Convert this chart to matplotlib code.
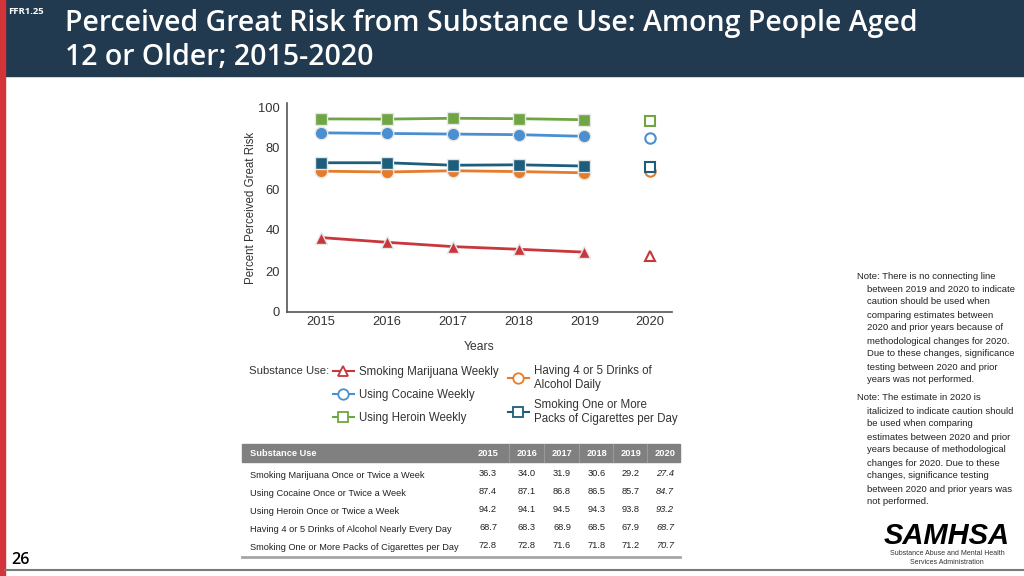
import matplotlib
matplotlib.use("Agg")
import matplotlib.pyplot as plt
from matplotlib.lines import Line2D
from matplotlib.patches import Rectangle

# data
years = [2015, 2016, 2017, 2018, 2019]
year_2020 = 2020
table_years = ["2015", "2016", "2017", "2018", "2019", "2020"]

marijuana = [36.3, 34.0, 31.9, 30.6, 29.2]
cocaine = [87.4, 87.1, 86.8, 86.5, 85.7]
heroin = [94.2, 94.1, 94.5, 94.3, 93.8]
alcohol = [68.7, 68.3, 68.9, 68.5, 67.9]
cigarettes = [72.8, 72.8, 71.6, 71.8, 71.2]
values_2020 = [27.4, 84.7, 93.2, 68.7, 70.7]

legend_labels = ["Smoking Marijuana Weekly", "Using Cocaine Weekly", "Using Heroin Weekly",
                 "Having 4 or 5 Drinks of\nAlcohol Daily",
                 "Smoking One or More\nPacks of Cigarettes per Day"]
table_labels = ["Smoking Marijuana Once or Twice a Week",
                "Using Cocaine Once or Twice a Week",
                "Using Heroin Once or Twice a Week",
                "Having 4 or 5 Drinks of Alcohol Nearly Every Day",
                "Smoking One or More Packs of Cigarettes per Day"]

series = [marijuana, cocaine, heroin, alcohol, cigarettes]
colors = ["#c8373b", "#4a8fd0", "#6fa543", "#e57b2b", "#1d5e7c"]
markers = ["^", "o", "s", "o", "s"]
zorders = [3, 3, 3, 3, 4]

plt.rcParams["font.family"] = ["Liberation Sans", "DejaVu Sans"]
header_font = ["Open Sans", "DejaVu Sans"]
text_color = "#333333"

W, H = 1024, 576
fig = plt.figure(figsize=(10.24, 5.76), dpi=100)

def fx(px):
    return px / W

def fy(py):
    return 1 - py / H

# header band, red strip, footer line
fig.patches.append(Rectangle((fx(5), fy(76)), fx(1019), 76 / H, transform=fig.transFigure,
                             color="#213a4f", zorder=0))
fig.patches.append(Rectangle((0, 0), fx(5), 1, transform=fig.transFigure,
                             color="#d2343a", zorder=0))
fig.lines.append(Line2D([fx(5), 1], [fy(570), fy(570)], transform=fig.transFigure,
                        color="#7a7a7a", lw=1.5))
fig.text(fx(8), fy(12), "FFR1.25", color="white", fontsize=6.8, fontweight="bold",
         family=header_font, va="center")
fig.text(fx(65), fy(24), "Perceived Great Risk from Substance Use: Among People Aged",
         color="white", fontsize=20.5, fontweight="semibold", family=header_font, va="center")
fig.text(fx(65), fy(57), "12 or Older; 2015-2020",
         color="white", fontsize=20.5, fontweight="semibold", family=header_font, va="center")
fig.text(fx(11), fy(560), "26", fontsize=11.5, fontweight="semibold",
         family=header_font, va="center")

# chart
ax = fig.add_axes([fx(287), fy(312), fx(672) - fx(287), (312 - 103) / H])
for vals, c, m, z in zip(series, colors, markers, zorders):
    ax.plot(years, vals, color=c, lw=2, marker=m, ms=9, mfc=c, mec="#e6e6e6", mew=1.0, zorder=z)
for v, c, m in zip(values_2020, colors, markers):
    ax.plot([year_2020], [v], ls="none", marker=m, ms=7.5, mfc="white", mec=c, mew=1.5)

ax.set_xlim(2014.48, 2020.33)
ax.set_ylim(0, 100 * 209 / 205)
ax.set_yticks([0, 20, 40, 60, 80, 100])
ax.set_xticks(years + [year_2020])
ax.tick_params(length=0, labelsize=9.3, colors=text_color)
ax.tick_params(axis="y", pad=5)
ax.tick_params(axis="x", pad=3)
for s in ["top", "right"]:
    ax.spines[s].set_visible(False)
for s in ["left", "bottom"]:
    ax.spines[s].set_color("#555555")
    ax.spines[s].set_linewidth(1.2)
ax.set_xlabel("Years", fontsize=8.7, color=text_color, labelpad=9)
ax.set_ylabel("Percent Perceived Great Risk", fontsize=8.3, color=text_color, labelpad=1)

# legend, two columns placed separately
handles = [Line2D([], [], color=c, lw=1.5, marker=m, ms=7.5, mfc="white", mec=c, mew=1.3)
           for c, m in zip(colors, markers)]
fig.text(fx(249), fy(371), "Substance Use:", fontsize=8.2, color=text_color, va="center")
leg_kw = dict(loc="upper left", frameon=False, fontsize=8.3, handlelength=1.8,
              handletextpad=0.45, borderpad=0, borderaxespad=0, labelcolor=text_color)
fig.legend(handles[:3], legend_labels[:3], bbox_to_anchor=(fx(333), fy(366)),
           labelspacing=0.95, **leg_kw)
fig.legend(handles[3:], legend_labels[3:], bbox_to_anchor=(fx(508), fy(365)),
           labelspacing=0.7, **leg_kw)

# table
col_x = [488, 527, 562, 597, 631, 665]
row_y = [474, 493, 511, 529, 547]
fig.patches.append(Rectangle((fx(242), fy(462)), fx(438), 18 / H, transform=fig.transFigure,
                             color="#808080", zorder=0))
for x in col_x[1:]:
    fig.lines.append(Line2D([fx(x - 18), fx(x - 18)], [fy(462), fy(444)], transform=fig.transFigure,
                            color="#9a9a9a", lw=0.8))
fig.lines.append(Line2D([fx(242), fx(680)], [fy(557), fy(557)], transform=fig.transFigure,
                        color="#a6a6a6", lw=2))
fig.text(fx(250), fy(453), "Substance Use", fontsize=6.7, fontweight="bold", color="white", va="center")
for x, yr in zip(col_x, table_years):
    fig.text(fx(x), fy(453), yr, fontsize=6.7, fontweight="bold", color="white",
             va="center", ha="center")
for i, (lab, y) in enumerate(zip(table_labels, row_y)):
    fig.text(fx(250), fy(y + 1), lab, fontsize=6.7, color="#222222", va="center")
    row = [series[i][k] for k in range(len(years))] + [values_2020[i]]
    for k, (x, v) in enumerate(zip(col_x, row)):
        fig.text(fx(x), fy(y - 1), f"{v:.1f}", fontsize=6.7, color="#222222", va="center", ha="center",
                 style="italic" if k == 5 else "normal")

# notes
note1 = ["Note: There is no connecting line", "between 2019 and 2020 to indicate",
         "caution should be used when", "comparing estimates between",
         "2020 and prior years because of", "methodological changes for 2020.",
         "Due to these changes, significance", "testing between 2020 and prior",
         "years was not performed."]
note2 = ["Note: The estimate in 2020 is", "italicized to indicate caution should",
         "be used when comparing", "estimates between 2020 and prior",
         "years because of methodological", "changes for 2020. Due to these",
         "changes, significance testing", "between 2020 and prior years was",
         "not performed."]
for start, lines in [(275, note1), (397, note2)]:
    for j, line in enumerate(lines):
        fig.text(fx(857 if j == 0 else 867), fy(start + 13 * j + 1), line, fontsize=6.8,
                 color="#222222", va="center")

# logo
fig.text(fx(947), fy(536), "SAMHSA", fontsize=21, fontweight="bold", style="italic",
         ha="center", va="center")
fig.text(fx(947), fy(558), "Substance Abuse and Mental Health\nServices Administration",
         fontsize=5, ha="center", va="center", color=text_color, linespacing=1.35)

fig.savefig("out.png", dpi=100)
